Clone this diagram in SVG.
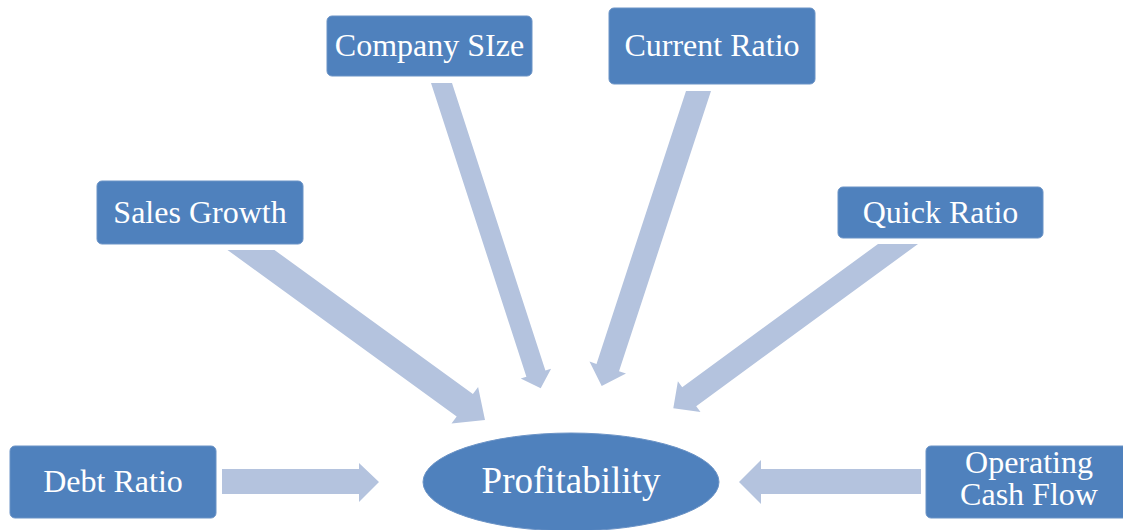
<svg xmlns="http://www.w3.org/2000/svg" width="1123" height="530" viewBox="0 0 1123 530">
  <style>
    .box { fill: #4F81BD; stroke: #6b93c6; stroke-width: 1; }
    .lbl { font-family: "Liberation Serif", "Times New Roman", serif; font-size: 32px; fill: #FFFFFF; text-anchor: middle; }
    .big { font-size: 37px; }
    .arrow { fill: #B4C3DE; }
  </style>
  <rect width="1123" height="530" fill="#FFFFFF"/>

  <!-- block arrows pointing toward the central ellipse -->
  <g id="connectors">
    <polygon class="arrow" points="222,469 359,469 359,463 379,482 359,502 359,494 222,494"/>
    <polygon class="arrow" points="921,469 761,469 761,460 739,482 761,504 761,494 921,494"/>
    <polygon class="arrow" points="227.5,250 456.7,416.5 451.5,423.6 485,420 478.1,387 472.9,394.1 274.5,250"/>
    <polygon class="arrow" points="431,83 526.4,376.7 520.7,378.5 540.7,388.3 551.1,368.7 545.4,370.5 452,83"/>
    <polygon class="arrow" points="686,91 596.5,363.9 589.5,361.6 601.7,386 626,373.6 619,371.3 711,91"/>
    <polygon class="arrow" points="878,244 682.2,387.2 677.9,381.3 673.3,408.3 700.5,412.1 696.2,406.2 918,244"/>
  </g>

  <g id="company-size">
    <rect class="box" x="327" y="16" width="205" height="60" rx="5"/>
    <text class="lbl" x="429.5" y="56">Company SIze</text>
  </g>

  <g id="current-ratio">
    <rect class="box" x="609" y="8" width="206" height="76" rx="5"/>
    <text class="lbl" x="712" y="56">Current Ratio</text>
  </g>

  <g id="sales-growth">
    <rect class="box" x="97" y="181" width="206" height="63" rx="5"/>
    <text class="lbl" x="200" y="223">Sales Growth</text>
  </g>

  <g id="quick-ratio">
    <rect class="box" x="838" y="187" width="205" height="51" rx="5"/>
    <text class="lbl" x="940.5" y="223">Quick Ratio</text>
  </g>

  <g id="debt-ratio">
    <rect class="box" x="10" y="446" width="206" height="72" rx="5"/>
    <text class="lbl" x="113" y="492">Debt Ratio</text>
  </g>

  <g id="operating-cash-flow">
    <rect class="box" x="926" y="446" width="206" height="72" rx="5"/>
    <text class="lbl" x="1029" y="473">Operating</text>
    <text class="lbl" x="1029" y="505">Cash Flow</text>
  </g>

  <g id="profitability">
    <ellipse cx="571" cy="482" rx="148" ry="49" fill="#4F81BD" stroke="#6b93c6" stroke-width="1"/>
    <text class="lbl big" x="571" y="493">Profitability</text>
  </g>
</svg>
